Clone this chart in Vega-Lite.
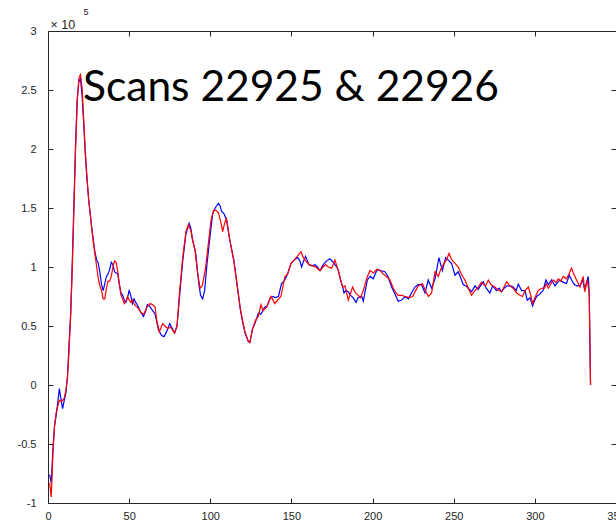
{
  "$schema": "https://vega.github.io/schema/vega-lite/v6.json",
  "width": 568,
  "height": 472,
  "autosize": "none",
  "padding": {"left": 48, "top": 31, "right": 0, "bottom": 22},
  "background": "white",
  "config": {
    "view": {"stroke": null},
    "axis": {
      "grid": false,
      "labelFont": "Liberation Sans",
      "labelFontSize": 11,
      "labelColor": "#262626",
      "domainColor": "#262626",
      "domainWidth": 1,
      "tickColor": "#262626",
      "tickSize": -5,
      "tickWidth": 1,
      "titleFont": "Liberation Sans",
      "titleColor": "#262626",
      "titleFontWeight": "normal"
    }
  },
  "datasets": {
    "scans": [
      {"x":1,"v":-0.76,"scan":"22925"},{"x":2,"v":-0.83,"scan":"22925"},{"x":3,"v":-0.55,"scan":"22925"},{"x":4,"v":-0.35,"scan":"22925"},{"x":5,"v":-0.26,"scan":"22925"},{"x":6,"v":-0.15,"scan":"22925"},{"x":7,"v":-0.03,"scan":"22925"},{"x":8,"v":-0.12,"scan":"22925"},{"x":9,"v":-0.2,"scan":"22925"},{"x":10,"v":-0.13,"scan":"22925"},
      {"x":11,"v":-0.07,"scan":"22925"},{"x":12,"v":0.07,"scan":"22925"},{"x":13,"v":0.35,"scan":"22925"},{"x":14,"v":0.62,"scan":"22925"},{"x":15,"v":1.06,"scan":"22925"},{"x":16,"v":1.55,"scan":"22925"},{"x":17,"v":2.05,"scan":"22925"},{"x":18,"v":2.42,"scan":"22925"},{"x":19,"v":2.57,"scan":"22925"},{"x":20,"v":2.6,"scan":"22925"},
      {"x":21,"v":2.45,"scan":"22925"},{"x":22,"v":2.22,"scan":"22925"},{"x":23,"v":1.95,"scan":"22925"},{"x":24,"v":1.75,"scan":"22925"},{"x":25,"v":1.58,"scan":"22925"},{"x":26,"v":1.45,"scan":"22925"},{"x":27,"v":1.33,"scan":"22925"},{"x":28,"v":1.22,"scan":"22925"},{"x":29,"v":1.12,"scan":"22925"},{"x":30,"v":1.06,"scan":"22925"},
      {"x":31,"v":1.03,"scan":"22925"},{"x":32,"v":0.95,"scan":"22925"},{"x":33,"v":0.85,"scan":"22925"},{"x":34,"v":0.8,"scan":"22925"},{"x":35,"v":0.86,"scan":"22925"},{"x":36,"v":0.92,"scan":"22925"},{"x":37,"v":0.94,"scan":"22925"},{"x":38,"v":0.98,"scan":"22925"},{"x":39,"v":1.04,"scan":"22925"},{"x":40,"v":1.02,"scan":"22925"},
      {"x":41,"v":0.96,"scan":"22925"},{"x":42,"v":0.95,"scan":"22925"},{"x":43,"v":0.94,"scan":"22925"},{"x":44,"v":0.85,"scan":"22925"},{"x":45,"v":0.78,"scan":"22925"},{"x":46,"v":0.76,"scan":"22925"},{"x":47,"v":0.72,"scan":"22925"},{"x":48,"v":0.7,"scan":"22925"},{"x":49,"v":0.74,"scan":"22925"},{"x":50,"v":0.8,"scan":"22925"},
      {"x":51,"v":0.76,"scan":"22925"},{"x":52,"v":0.69,"scan":"22925"},{"x":53,"v":0.73,"scan":"22925"},{"x":54,"v":0.7,"scan":"22925"},{"x":55,"v":0.68,"scan":"22925"},{"x":56,"v":0.65,"scan":"22925"},{"x":57,"v":0.62,"scan":"22925"},{"x":58.8,"v":0.58,"scan":"22925"},{"x":60,"v":0.62,"scan":"22925"},{"x":61.2,"v":0.68,"scan":"22925"},
      {"x":62.5,"v":0.67,"scan":"22925"},{"x":64.5,"v":0.63,"scan":"22925"},{"x":66,"v":0.6,"scan":"22925"},{"x":68,"v":0.47,"scan":"22925"},{"x":70,"v":0.42,"scan":"22925"},{"x":71.5,"v":0.41,"scan":"22925"},{"x":73,"v":0.45,"scan":"22925"},{"x":75,"v":0.52,"scan":"22925"},{"x":76.5,"v":0.48,"scan":"22925"},{"x":78,"v":0.44,"scan":"22925"},
      {"x":79.5,"v":0.5,"scan":"22925"},{"x":81,"v":0.74,"scan":"22925"},{"x":83,"v":1.05,"scan":"22925"},{"x":85,"v":1.28,"scan":"22925"},{"x":87,"v":1.37,"scan":"22925"},{"x":88,"v":1.33,"scan":"22925"},{"x":89,"v":1.24,"scan":"22925"},{"x":91,"v":1.12,"scan":"22925"},{"x":92,"v":0.98,"scan":"22925"},{"x":93,"v":0.85,"scan":"22925"},
      {"x":94,"v":0.76,"scan":"22925"},{"x":95.3,"v":0.73,"scan":"22925"},{"x":96.5,"v":0.8,"scan":"22925"},{"x":98,"v":1.03,"scan":"22925"},{"x":100,"v":1.28,"scan":"22925"},{"x":101.5,"v":1.45,"scan":"22925"},{"x":103,"v":1.5,"scan":"22925"},{"x":105,"v":1.54,"scan":"22925"},{"x":106,"v":1.52,"scan":"22925"},{"x":107,"v":1.47,"scan":"22925"},
      {"x":108.5,"v":1.45,"scan":"22925"},{"x":110,"v":1.4,"scan":"22925"},{"x":112,"v":1.23,"scan":"22925"},{"x":114.5,"v":1.06,"scan":"22925"},{"x":117,"v":0.8,"scan":"22925"},{"x":118.5,"v":0.64,"scan":"22925"},{"x":119.7,"v":0.55,"scan":"22925"},{"x":121.4,"v":0.44,"scan":"22925"},{"x":123.4,"v":0.37,"scan":"22925"},{"x":124.4,"v":0.36,"scan":"22925"},
      {"x":125.9,"v":0.47,"scan":"22925"},{"x":127.5,"v":0.52,"scan":"22925"},{"x":128.5,"v":0.56,"scan":"22925"},{"x":129.6,"v":0.61,"scan":"22925"},{"x":131,"v":0.6,"scan":"22925"},{"x":132,"v":0.62,"scan":"22925"},{"x":133.5,"v":0.66,"scan":"22925"},{"x":135,"v":0.67,"scan":"22925"},{"x":137,"v":0.74,"scan":"22925"},{"x":138.8,"v":0.75,"scan":"22925"},
      {"x":140,"v":0.74,"scan":"22925"},{"x":142,"v":0.75,"scan":"22925"},{"x":143.9,"v":0.86,"scan":"22925"},{"x":145.5,"v":0.88,"scan":"22925"},{"x":147.6,"v":0.94,"scan":"22925"},{"x":149.7,"v":1.03,"scan":"22925"},{"x":151.8,"v":1.06,"scan":"22925"},{"x":153.8,"v":1.08,"scan":"22925"},{"x":155,"v":1.06,"scan":"22925"},{"x":156.3,"v":1.0,"scan":"22925"},
      {"x":157.5,"v":1.05,"scan":"22925"},{"x":158.7,"v":1.09,"scan":"22925"},{"x":160.8,"v":1.02,"scan":"22925"},{"x":162.5,"v":1.01,"scan":"22925"},{"x":164.5,"v":1.02,"scan":"22925"},{"x":166,"v":1.0,"scan":"22925"},{"x":167.6,"v":0.97,"scan":"22925"},{"x":169.6,"v":1.02,"scan":"22925"},{"x":171.5,"v":1.05,"scan":"22925"},{"x":173.7,"v":1.07,"scan":"22925"},
      {"x":175.8,"v":1.04,"scan":"22925"},{"x":177.9,"v":1.0,"scan":"22925"},{"x":178.9,"v":0.97,"scan":"22925"},{"x":180.3,"v":0.89,"scan":"22925"},{"x":181.6,"v":0.83,"scan":"22925"},{"x":182.4,"v":0.78,"scan":"22925"},{"x":183.5,"v":0.8,"scan":"22925"},{"x":185,"v":0.79,"scan":"22925"},{"x":186.5,"v":0.76,"scan":"22925"},{"x":188,"v":0.74,"scan":"22925"},
      {"x":189.8,"v":0.7,"scan":"22925"},{"x":191,"v":0.74,"scan":"22925"},{"x":193.3,"v":0.75,"scan":"22925"},{"x":194.3,"v":0.71,"scan":"22925"},{"x":195.5,"v":0.8,"scan":"22925"},{"x":196.8,"v":0.89,"scan":"22925"},{"x":198.5,"v":0.92,"scan":"22925"},{"x":200.4,"v":0.9,"scan":"22925"},{"x":202.9,"v":0.98,"scan":"22925"},{"x":205,"v":0.97,"scan":"22925"},
      {"x":207.6,"v":0.96,"scan":"22925"},{"x":209.5,"v":0.92,"scan":"22925"},{"x":211.7,"v":0.83,"scan":"22925"},{"x":213.5,"v":0.78,"scan":"22925"},{"x":215.8,"v":0.71,"scan":"22925"},{"x":218,"v":0.72,"scan":"22925"},{"x":220,"v":0.75,"scan":"22925"},{"x":222,"v":0.73,"scan":"22925"},{"x":224,"v":0.78,"scan":"22925"},{"x":226.1,"v":0.83,"scan":"22925"},
      {"x":228,"v":0.85,"scan":"22925"},{"x":230.2,"v":0.85,"scan":"22925"},{"x":232.3,"v":0.78,"scan":"22925"},{"x":234.3,"v":0.89,"scan":"22925"},{"x":236.4,"v":0.82,"scan":"22925"},{"x":238.5,"v":0.9,"scan":"22925"},{"x":240.9,"v":1.08,"scan":"22925"},{"x":242,"v":1.02,"scan":"22925"},{"x":243,"v":0.97,"scan":"22925"},{"x":245,"v":1.08,"scan":"22925"},
      {"x":246.5,"v":1.06,"scan":"22925"},{"x":248.7,"v":1.03,"scan":"22925"},{"x":250.8,"v":0.93,"scan":"22925"},{"x":252.8,"v":0.96,"scan":"22925"},{"x":254.5,"v":0.9,"scan":"22925"},{"x":255.9,"v":0.85,"scan":"22925"},{"x":257.5,"v":0.84,"scan":"22925"},{"x":259,"v":0.82,"scan":"22925"},{"x":261,"v":0.79,"scan":"22925"},{"x":263.1,"v":0.84,"scan":"22925"},
      {"x":265,"v":0.81,"scan":"22925"},{"x":266.5,"v":0.84,"scan":"22925"},{"x":268.2,"v":0.875,"scan":"22925"},{"x":270,"v":0.82,"scan":"22925"},{"x":272.3,"v":0.78,"scan":"22925"},{"x":274,"v":0.84,"scan":"22925"},{"x":276.4,"v":0.8,"scan":"22925"},{"x":278,"v":0.82,"scan":"22925"},{"x":279.5,"v":0.79,"scan":"22925"},{"x":281,"v":0.82,"scan":"22925"},
      {"x":283,"v":0.84,"scan":"22925"},{"x":285,"v":0.84,"scan":"22925"},{"x":286.7,"v":0.83,"scan":"22925"},{"x":288.5,"v":0.8,"scan":"22925"},{"x":289.8,"v":0.856,"scan":"22925"},{"x":291.8,"v":0.8,"scan":"22925"},{"x":293.9,"v":0.8,"scan":"22925"},{"x":295.3,"v":0.72,"scan":"22925"},{"x":297,"v":0.74,"scan":"22925"},{"x":298.6,"v":0.67,"scan":"22925"},
      {"x":300,"v":0.72,"scan":"22925"},{"x":301.1,"v":0.75,"scan":"22925"},{"x":303,"v":0.77,"scan":"22925"},{"x":305,"v":0.8,"scan":"22925"},{"x":306.8,"v":0.89,"scan":"22925"},{"x":308.3,"v":0.85,"scan":"22925"},{"x":310.3,"v":0.89,"scan":"22925"},{"x":312.4,"v":0.84,"scan":"22925"},{"x":314,"v":0.87,"scan":"22925"},{"x":315.4,"v":0.89,"scan":"22925"},
      {"x":317.5,"v":0.87,"scan":"22925"},{"x":319.5,"v":0.86,"scan":"22925"},{"x":321.2,"v":0.93,"scan":"22925"},{"x":323.2,"v":0.875,"scan":"22925"},{"x":324.5,"v":0.85,"scan":"22925"},{"x":326.1,"v":0.84,"scan":"22925"},{"x":327.8,"v":0.84,"scan":"22925"},{"x":329.4,"v":0.89,"scan":"22925"},{"x":330.5,"v":0.82,"scan":"22925"},{"x":331.5,"v":0.85,"scan":"22925"},
      {"x":332.9,"v":0.92,"scan":"22925"},{"x":333.5,"v":0.78,"scan":"22925"},{"x":334.3,"v":0,"scan":"22925"},

      {"x":1,"v":-0.83,"scan":"22926"},{"x":2,"v":-0.95,"scan":"22926"},{"x":3,"v":-0.6,"scan":"22926"},{"x":4,"v":-0.35,"scan":"22926"},{"x":5,"v":-0.24,"scan":"22926"},{"x":6,"v":-0.18,"scan":"22926"},{"x":7,"v":-0.13,"scan":"22926"},{"x":8,"v":-0.14,"scan":"22926"},{"x":9,"v":-0.13,"scan":"22926"},{"x":10,"v":-0.11,"scan":"22926"},
      {"x":11,"v":-0.05,"scan":"22926"},{"x":12,"v":0.07,"scan":"22926"},{"x":13,"v":0.3,"scan":"22926"},{"x":14,"v":0.6,"scan":"22926"},{"x":15,"v":1.0,"scan":"22926"},{"x":16,"v":1.5,"scan":"22926"},{"x":17,"v":2.0,"scan":"22926"},{"x":18,"v":2.4,"scan":"22926"},{"x":19,"v":2.6,"scan":"22926"},{"x":20,"v":2.63,"scan":"22926"},
      {"x":21,"v":2.52,"scan":"22926"},{"x":22,"v":2.25,"scan":"22926"},{"x":23,"v":1.98,"scan":"22926"},{"x":24,"v":1.76,"scan":"22926"},{"x":25,"v":1.58,"scan":"22926"},{"x":26,"v":1.45,"scan":"22926"},{"x":27,"v":1.32,"scan":"22926"},{"x":28,"v":1.2,"scan":"22926"},{"x":29,"v":1.1,"scan":"22926"},{"x":30,"v":1.0,"scan":"22926"},
      {"x":31,"v":0.9,"scan":"22926"},{"x":32,"v":0.84,"scan":"22926"},{"x":33,"v":0.8,"scan":"22926"},{"x":34,"v":0.73,"scan":"22926"},{"x":35,"v":0.73,"scan":"22926"},{"x":36,"v":0.82,"scan":"22926"},{"x":37,"v":0.88,"scan":"22926"},{"x":38,"v":0.88,"scan":"22926"},{"x":39,"v":0.92,"scan":"22926"},{"x":40,"v":1.0,"scan":"22926"},
      {"x":41,"v":1.05,"scan":"22926"},{"x":42,"v":1.04,"scan":"22926"},{"x":43,"v":0.96,"scan":"22926"},{"x":44,"v":0.85,"scan":"22926"},{"x":45,"v":0.76,"scan":"22926"},{"x":46,"v":0.73,"scan":"22926"},{"x":47,"v":0.69,"scan":"22926"},{"x":48,"v":0.71,"scan":"22926"},{"x":49,"v":0.75,"scan":"22926"},{"x":50,"v":0.72,"scan":"22926"},
      {"x":51,"v":0.7,"scan":"22926"},{"x":52,"v":0.72,"scan":"22926"},{"x":53,"v":0.69,"scan":"22926"},{"x":54,"v":0.67,"scan":"22926"},{"x":55,"v":0.66,"scan":"22926"},{"x":56,"v":0.64,"scan":"22926"},{"x":57.7,"v":0.61,"scan":"22926"},{"x":59,"v":0.6,"scan":"22926"},{"x":61,"v":0.66,"scan":"22926"},{"x":62.9,"v":0.69,"scan":"22926"},
      {"x":64.5,"v":0.68,"scan":"22926"},{"x":66,"v":0.66,"scan":"22926"},{"x":67,"v":0.55,"scan":"22926"},{"x":68.6,"v":0.45,"scan":"22926"},{"x":69.7,"v":0.49,"scan":"22926"},{"x":70.7,"v":0.52,"scan":"22926"},{"x":72.7,"v":0.49,"scan":"22926"},{"x":74,"v":0.48,"scan":"22926"},{"x":75.6,"v":0.49,"scan":"22926"},{"x":78,"v":0.44,"scan":"22926"},
      {"x":79.5,"v":0.5,"scan":"22926"},{"x":81,"v":0.78,"scan":"22926"},{"x":83,"v":1.08,"scan":"22926"},{"x":85,"v":1.3,"scan":"22926"},{"x":86.5,"v":1.36,"scan":"22926"},{"x":88,"v":1.31,"scan":"22926"},{"x":89,"v":1.23,"scan":"22926"},{"x":90.6,"v":1.14,"scan":"22926"},{"x":92,"v":0.97,"scan":"22926"},{"x":93.7,"v":0.82,"scan":"22926"},
      {"x":95,"v":0.84,"scan":"22926"},{"x":97,"v":0.98,"scan":"22926"},{"x":99,"v":1.22,"scan":"22926"},{"x":100.5,"v":1.4,"scan":"22926"},{"x":102,"v":1.48,"scan":"22926"},{"x":103.5,"v":1.48,"scan":"22926"},{"x":105,"v":1.46,"scan":"22926"},{"x":106.5,"v":1.38,"scan":"22926"},{"x":107.6,"v":1.3,"scan":"22926"},{"x":109,"v":1.38,"scan":"22926"},
      {"x":110,"v":1.41,"scan":"22926"},{"x":112,"v":1.23,"scan":"22926"},{"x":114.5,"v":1.05,"scan":"22926"},{"x":117,"v":0.8,"scan":"22926"},{"x":118.5,"v":0.65,"scan":"22926"},{"x":119.7,"v":0.56,"scan":"22926"},{"x":121.4,"v":0.45,"scan":"22926"},{"x":123.4,"v":0.37,"scan":"22926"},{"x":124.4,"v":0.36,"scan":"22926"},{"x":125.9,"v":0.47,"scan":"22926"},
      {"x":127.9,"v":0.55,"scan":"22926"},{"x":129.6,"v":0.58,"scan":"22926"},{"x":131.2,"v":0.68,"scan":"22926"},{"x":132.5,"v":0.63,"scan":"22926"},{"x":134.7,"v":0.66,"scan":"22926"},{"x":137.4,"v":0.75,"scan":"22926"},{"x":139.8,"v":0.69,"scan":"22926"},{"x":141.5,"v":0.72,"scan":"22926"},{"x":143.5,"v":0.75,"scan":"22926"},{"x":145,"v":0.85,"scan":"22926"},
      {"x":146,"v":0.92,"scan":"22926"},{"x":147.6,"v":0.94,"scan":"22926"},{"x":149.7,"v":1.03,"scan":"22926"},{"x":151.8,"v":1.06,"scan":"22926"},{"x":154.2,"v":1.1,"scan":"22926"},{"x":155.9,"v":1.13,"scan":"22926"},{"x":157,"v":1.09,"scan":"22926"},{"x":158.3,"v":1.06,"scan":"22926"},{"x":160.8,"v":1.02,"scan":"22926"},{"x":163,"v":1.01,"scan":"22926"},
      {"x":165,"v":1.0,"scan":"22926"},{"x":167.6,"v":0.97,"scan":"22926"},{"x":169.5,"v":1.0,"scan":"22926"},{"x":171,"v":1.02,"scan":"22926"},{"x":172.7,"v":1.0,"scan":"22926"},{"x":174.8,"v":0.99,"scan":"22926"},{"x":176.8,"v":1.06,"scan":"22926"},{"x":178.9,"v":0.97,"scan":"22926"},{"x":180.3,"v":0.89,"scan":"22926"},{"x":181.6,"v":0.83,"scan":"22926"},
      {"x":183,"v":0.84,"scan":"22926"},{"x":185,"v":0.72,"scan":"22926"},{"x":186.5,"v":0.78,"scan":"22926"},{"x":187.7,"v":0.83,"scan":"22926"},{"x":189.5,"v":0.78,"scan":"22926"},{"x":191.2,"v":0.76,"scan":"22926"},{"x":192.5,"v":0.74,"scan":"22926"},{"x":194.3,"v":0.8,"scan":"22926"},{"x":196.3,"v":0.9,"scan":"22926"},{"x":198.4,"v":0.97,"scan":"22926"},
      {"x":200.5,"v":0.95,"scan":"22926"},{"x":202.5,"v":0.98,"scan":"22926"},{"x":204.6,"v":0.97,"scan":"22926"},{"x":206.6,"v":0.94,"scan":"22926"},{"x":208.5,"v":0.92,"scan":"22926"},{"x":210.7,"v":0.89,"scan":"22926"},{"x":212.8,"v":0.82,"scan":"22926"},{"x":214.5,"v":0.78,"scan":"22926"},{"x":215.8,"v":0.76,"scan":"22926"},{"x":218,"v":0.76,"scan":"22926"},
      {"x":220,"v":0.75,"scan":"22926"},{"x":222.5,"v":0.74,"scan":"22926"},{"x":224.7,"v":0.75,"scan":"22926"},{"x":226.5,"v":0.8,"scan":"22926"},{"x":228.2,"v":0.84,"scan":"22926"},{"x":230.8,"v":0.86,"scan":"22926"},{"x":232.5,"v":0.8,"scan":"22926"},{"x":234.4,"v":0.75,"scan":"22926"},{"x":236.4,"v":0.78,"scan":"22926"},{"x":238.5,"v":0.96,"scan":"22926"},
      {"x":240.5,"v":0.92,"scan":"22926"},{"x":242,"v":0.98,"scan":"22926"},{"x":243.6,"v":1.02,"scan":"22926"},{"x":245.5,"v":1.06,"scan":"22926"},{"x":247.1,"v":1.115,"scan":"22926"},{"x":248.5,"v":1.07,"scan":"22926"},{"x":249.8,"v":1.045,"scan":"22926"},{"x":251.5,"v":1.02,"scan":"22926"},{"x":252.8,"v":1.0,"scan":"22926"},{"x":255,"v":0.93,"scan":"22926"},
      {"x":256.9,"v":0.89,"scan":"22926"},{"x":259,"v":0.82,"scan":"22926"},{"x":261,"v":0.76,"scan":"22926"},{"x":263,"v":0.8,"scan":"22926"},{"x":265.2,"v":0.83,"scan":"22926"},{"x":267,"v":0.87,"scan":"22926"},{"x":269.7,"v":0.84,"scan":"22926"},{"x":271.3,"v":0.89,"scan":"22926"},{"x":273,"v":0.85,"scan":"22926"},{"x":275.4,"v":0.83,"scan":"22926"},
      {"x":277,"v":0.81,"scan":"22926"},{"x":279.5,"v":0.79,"scan":"22926"},{"x":281,"v":0.83,"scan":"22926"},{"x":282.6,"v":0.875,"scan":"22926"},{"x":284.5,"v":0.84,"scan":"22926"},{"x":286.7,"v":0.82,"scan":"22926"},{"x":288.8,"v":0.78,"scan":"22926"},{"x":290.8,"v":0.76,"scan":"22926"},{"x":292.4,"v":0.75,"scan":"22926"},{"x":294,"v":0.8,"scan":"22926"},
      {"x":296,"v":0.83,"scan":"22926"},{"x":297.5,"v":0.76,"scan":"22926"},{"x":298.6,"v":0.69,"scan":"22926"},{"x":300,"v":0.74,"scan":"22926"},{"x":302.1,"v":0.8,"scan":"22926"},{"x":304,"v":0.82,"scan":"22926"},{"x":306,"v":0.82,"scan":"22926"},{"x":307,"v":0.86,"scan":"22926"},{"x":308.3,"v":0.82,"scan":"22926"},{"x":310,"v":0.86,"scan":"22926"},
      {"x":311.3,"v":0.89,"scan":"22926"},{"x":313,"v":0.87,"scan":"22926"},{"x":314.4,"v":0.9,"scan":"22926"},{"x":316,"v":0.88,"scan":"22926"},{"x":317.5,"v":0.92,"scan":"22926"},{"x":319.5,"v":0.9,"scan":"22926"},{"x":321,"v":0.94,"scan":"22926"},{"x":322.6,"v":0.99,"scan":"22926"},{"x":323.7,"v":0.95,"scan":"22926"},{"x":325.7,"v":0.89,"scan":"22926"},
      {"x":327.8,"v":0.83,"scan":"22926"},{"x":329.8,"v":0.92,"scan":"22926"},{"x":330.8,"v":0.79,"scan":"22926"},{"x":332.3,"v":0.89,"scan":"22926"},{"x":333.5,"v":0.78,"scan":"22926"},{"x":334.3,"v":0,"scan":"22926"}
    ],
    "label": [
      {"x": 21.6, "v": 2.407, "text": "Scans 22925 & 22926"}
    ]
  },
  "layer": [
    {
      "data": {"name": "scans"},
      "mark": {"type": "line", "strokeWidth": 1.2, "interpolate": "linear"},
      "encoding": {
        "x": {
          "field": "x", "type": "quantitative",
          "scale": {"domain": [0, 350], "nice": false, "zero": false},
          "axis": {
            "orient": "bottom", "title": null,
            "values": [0, 50, 100, 150, 200, 250, 300, 350],
            "labelExpr": "toString(datum.value)",
            "labelPadding": 12,
            "labelFlush": false, "labelOverlap": false
          }
        },
        "y": {
          "field": "v", "type": "quantitative",
          "scale": {"domain": [-1, 3], "nice": false, "zero": false},
          "axis": {
            "orient": "left",
            "values": [-1, -0.5, 0, 0.5, 1, 1.5, 2, 2.5, 3],
            "labelExpr": "toString(datum.value)",
            "labelPadding": 17,
            "labelFlush": false, "labelOverlap": false,
            "title": "× 10",
            "titleAngle": 0,
            "titleAlign": "left",
            "titleBaseline": "alphabetic",
            "titleFontSize": 12.5,
            "titleX": 2,
            "titleY": -3
          }
        },
        "color": {
          "field": "scan", "type": "nominal",
          "scale": {"domain": ["22925", "22926"], "range": ["#0000ff", "#ff0000"]},
          "legend": null
        }
      }
    },
    {
      "data": {"name": "label"},
      "mark": {"type": "text", "font": "Lato", "fontSize": 42.5, "align": "left", "baseline": "alphabetic", "color": "#000000"},
      "encoding": {
        "x": {
          "field": "x", "type": "quantitative",
          "axis": {
            "orient": "top", "labels": false,
            "values": [0, 50, 100, 150, 200, 250, 300, 350],
            "title": "5",
            "titleFontSize": 9,
            "titleAlign": "left",
            "titleBaseline": "alphabetic",
            "titleX": 35,
            "titleY": -17
          }
        },
        "y": {
          "field": "v", "type": "quantitative",
          "axis": {
            "orient": "right", "labels": false, "domain": false, "title": null,
            "values": [-1, -0.5, 0, 0.5, 1, 1.5, 2, 2.5, 3]
          }
        },
        "text": {"field": "text"}
      }
    }
  ],
  "resolve": {"axis": {"x": "independent", "y": "independent"}}
}
